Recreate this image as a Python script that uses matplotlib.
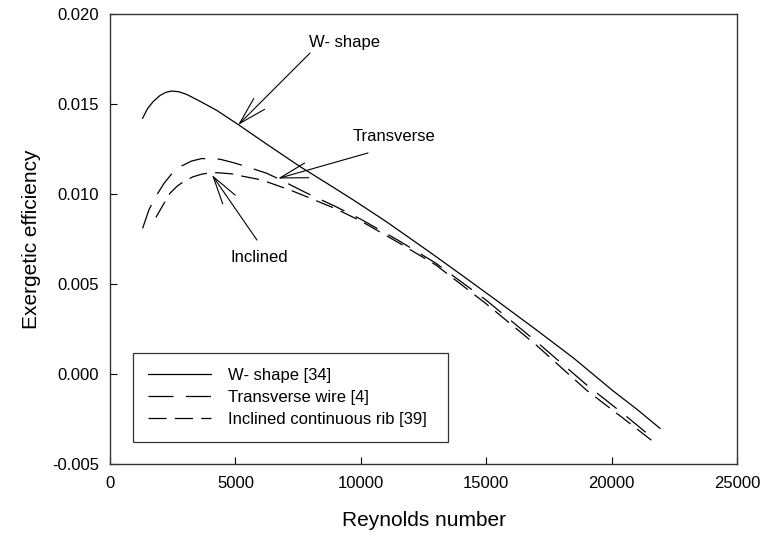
import matplotlib
matplotlib.use("Agg")
import matplotlib.pyplot as plt

plt.rcParams['font.family'] = ['Liberation Sans', 'DejaVu Sans']
plt.rcParams['lines.scale_dashes'] = False

# ---- data ----
w_re = [1300, 1500, 1730, 2000, 2230, 2460, 2750, 3060, 3590, 4250, 5120, 6300,
        7580, 8700, 9700, 11000, 12760, 14000, 15420, 17000, 18470, 20070, 21000, 21930]
w_eff = [0.01421, 0.01475, 0.01515, 0.01548, 0.01565, 0.01572, 0.01568, 0.01553,
         0.01515, 0.01465, 0.01385, 0.01272, 0.01152, 0.01055, 0.00967, 0.00848,
         0.00676, 0.00552, 0.00408, 0.00245, 0.00090, -0.00095, -0.00195, -0.00302]

tr_re = [1300, 1560, 1860, 2160, 2460, 2860, 3250, 3660, 4390, 4920, 5450, 6250,
         6710, 7800, 9000, 10000, 11500, 13000, 15000, 17000, 19000, 20500, 21500]
tr_eff = [0.00809, 0.00915, 0.00994, 0.01060, 0.01112, 0.01156, 0.01183, 0.01197,
          0.01193, 0.01174, 0.01152, 0.01115, 0.01085, 0.01008, 0.00930, 0.00860,
          0.00742, 0.00615, 0.00410, 0.00180, -0.00060, -0.00225, -0.00340]

in_re = [1830, 2190, 2390, 2690, 2990, 3320, 3650, 3990, 4320, 4920, 5310, 5910,
         6250, 7180, 7840, 9000, 10000, 11500, 13000, 15000, 17000, 19000, 20500, 21700]
in_eff = [0.00870, 0.00957, 0.01004, 0.01045, 0.01074, 0.01096, 0.01110, 0.01118,
          0.01118, 0.01111, 0.01098, 0.01082, 0.01068, 0.01022, 0.00985, 0.00918,
          0.00850, 0.00730, 0.00605, 0.00390, 0.00160, -0.00090, -0.00250, -0.00380]

labels = ['W- shape [34]', 'Transverse wire [4]', 'Inclined continuous rib [39]']
x_ticks = [0, 5000, 10000, 15000, 20000, 25000]
y_ticks = [-0.005, 0.000, 0.005, 0.010, 0.015, 0.020]

fig = plt.figure(figsize=(7.6, 5.35), dpi=100)
ax = fig.add_axes([110/760, 1-464/535, (737-110)/760, (464-14)/535])

lw = 0.9
ax.plot(w_re, w_eff, color='black', lw=lw, label=labels[0])
ax.plot(tr_re, tr_eff, color='black', lw=lw, dashes=(18, 9), label=labels[1])
ax.plot(in_re, in_eff, color='black', lw=lw, dashes=(13, 6), label=labels[2])

ax.set_xlim(0, 25000)
ax.set_ylim(-0.005, 0.020)
ax.set_xticks(x_ticks)
ax.set_xticklabels([str(v) for v in x_ticks])
ax.set_yticks(y_ticks)
ax.set_yticklabels(['%.3f' % v for v in y_ticks])
ax.tick_params(direction='in', length=5, width=0.8, labelsize=12, pad=9,
               top=False, right=False)
ax.tick_params(axis='y', pad=8)
for s in ax.spines.values():
    s.set_linewidth(1.0)
    s.set_color('#333333')

ax.set_xlabel('Reynolds number', fontsize=15, labelpad=14)
ax.set_ylabel('Exergetic efficiency', fontsize=15, labelpad=8)

arrow = dict(arrowstyle='->,head_length=2.0,head_width=0.55', color='black',
             lw=0.8, shrinkA=0, shrinkB=0, mutation_scale=10)
ax.annotate('', xy=(5104, 0.01383), xytext=(7974, 0.01783), arrowprops=arrow)
ax.text(9370, 0.01844, 'W- shape', fontsize=12, ha='center', va='center')
ax.annotate('', xy=(6698, 0.01086), xytext=(10287, 0.01228), arrowprops=arrow)
ax.text(9690, 0.01317, 'Transverse', fontsize=12, ha='left', va='center')
ax.annotate('', xy=(4067, 0.01106), xytext=(5861, 0.00744), arrowprops=arrow)
ax.text(5941, 0.00650, 'Inclined', fontsize=12, ha='center', va='center')

leg = ax.legend(loc='lower left', bbox_to_anchor=(23/627, 22/450, 315/627, 0.2),
                mode='expand', borderaxespad=0, fontsize=12, frameon=True,
                fancybox=False, edgecolor='black', handlelength=3.8,
                handletextpad=1.0, labelspacing=0.42, borderpad=0.9)
leg.get_frame().set_linewidth(0.9)

fig.savefig('out.png', dpi=100)
